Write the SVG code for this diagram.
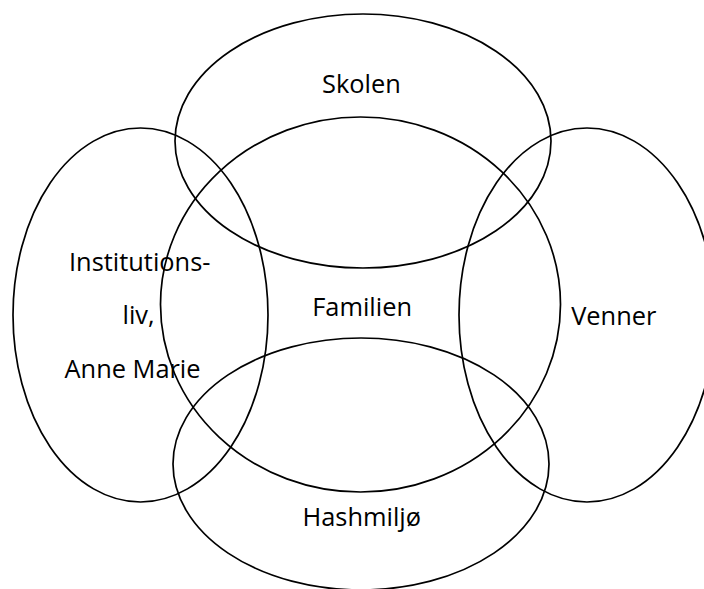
<svg xmlns="http://www.w3.org/2000/svg" width="704" height="589" viewBox="0 0 704 589">
<style>
.e{fill:none;stroke:#000;stroke-width:1.7}
.t{font-family:"Open Sans","Liberation Sans",sans-serif;font-size:25.4px;fill:#000}
</style>
<rect width="704" height="589" fill="#fff"/>
<g id="skolen">
<ellipse class="e" cx="363" cy="141" rx="188" ry="127"/>
<text class="t" x="322" y="93">Skolen</text>
</g>
<g id="familien">
<ellipse class="e" cx="360.5" cy="304.5" rx="200" ry="187.5"/>
<text class="t" x="312.2" y="315.7">Familien</text>
</g>
<g id="institutionsliv">
<ellipse class="e" cx="140.5" cy="315" rx="127.5" ry="187"/>
<text class="t" x="69" y="270.7">Institutions-</text>
<text class="t" x="122.5" y="324.3">liv,</text>
<text class="t" x="64.5" y="378.3">Anne Marie</text>
</g>
<g id="venner">
<ellipse class="e" cx="587" cy="315" rx="128" ry="187"/>
<text class="t" x="571.2" y="325.3">Venner</text>
</g>
<g id="hashmiljo">
<ellipse class="e" cx="361" cy="464" rx="188" ry="126"/>
<text class="t" x="302.5" y="525.7">Hashmiljø</text>
</g>
<g id="connectors"/>
</svg>
